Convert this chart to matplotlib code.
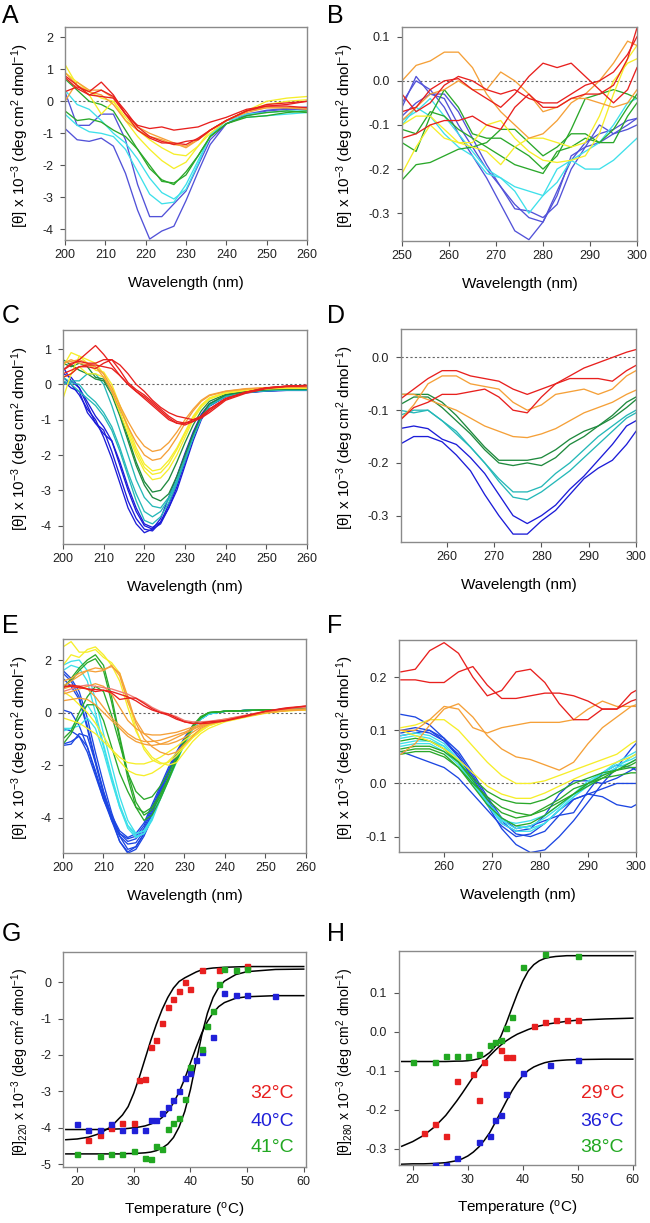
import matplotlib
matplotlib.use("Agg")
import matplotlib.pyplot as plt

plt.rcParams['font.family'] = ['Liberation Sans', 'DejaVu Sans']
plt.rcParams['mathtext.fontset'] = 'custom'
plt.rcParams['mathtext.rm'] = 'Liberation Sans'
plt.rcParams['mathtext.it'] = 'Liberation Sans:italic'
plt.rcParams['axes.unicode_minus'] = False

# ---------------- panel A (far UV, 3 nm steps) ----------------
a_wl = [200, 203, 206, 209, 212, 215, 218, 221, 224, 227, 230, 233, 236, 240, 245, 250, 255, 260]
a_blue = [
    [-0.85, -1.2, -1.25, -1.15, -1.4, -2.25, -3.4, -4.3, -4.05, -3.9, -3.1, -2.2, -1.35, -0.7, -0.4, -0.28, -0.22, -0.18],
    [0.3, -0.75, -0.75, -0.4, -0.4, -1.2, -2.6, -3.6, -3.6, -3.2, -2.8, -2.0, -1.2, -0.7, -0.45, -0.3, -0.25, -0.25],
]
a_cyan = [
    [-0.4, -0.75, -0.95, -1.0, -1.1, -1.5, -2.2, -2.9, -3.2, -3.15, -2.6, -1.85, -1.1, -0.6, -0.5, -0.45, -0.4, -0.35],
    [0.35, -0.1, -0.25, -0.6, -1.0, -1.3, -1.8, -2.4, -2.85, -3.05, -2.75, -1.95, -1.05, -0.6, -0.4, -0.35, -0.3, -0.3],
]
a_green = [
    [-0.3, -0.6, -0.55, -0.65, -0.9, -1.1, -1.5, -2.0, -2.5, -2.55, -2.3, -1.7, -1.1, -0.7, -0.5, -0.45, -0.35, -0.3],
    [0.7, 0.35, 0.0, -0.1, -0.3, -0.9, -1.5, -2.1, -2.45, -2.6, -2.2, -1.7, -1.1, -0.7, -0.45, -0.35, -0.3, -0.35],
]
a_yellow = [
    [1.15, 0.5, 0.2, -0.4, 0.0, -0.6, -1.1, -1.5, -1.85, -2.1, -1.9, -1.4, -1.0, -0.6, -0.3, 0.0, 0.1, 0.15],
    [0.9, 0.6, 0.3, 0.1, 0.0, -0.5, -0.9, -1.2, -1.45, -1.65, -1.7, -1.4, -0.9, -0.6, -0.3, -0.1, 0.0, 0.05],
]
a_orange = [
    [0.9, 0.5, 0.3, 0.2, -0.1, -0.6, -0.9, -1.1, -1.2, -1.35, -1.4, -1.2, -0.9, -0.6, -0.3, -0.2, -0.2, -0.25],
    [0.0, 0.6, 0.35, 0.35, 0.1, -0.4, -0.8, -1.0, -1.15, -1.3, -1.45, -1.2, -0.9, -0.6, -0.35, -0.2, -0.2, -0.2],
]
a_red = [
    [0.3, 0.45, 0.3, 0.6, 0.2, -0.4, -0.75, -0.85, -0.8, -0.9, -0.85, -0.8, -0.65, -0.5, -0.25, -0.15, -0.1, 0.0],
    [0.8, 0.5, 0.2, 0.35, 0.15, -0.3, -0.8, -1.1, -1.25, -1.35, -1.25, -1.2, -0.9, -0.6, -0.3, -0.1, -0.05, 0.0],
    [0.75, 0.4, 0.2, 0.15, 0.1, -0.4, -0.9, -1.15, -1.3, -1.3, -1.35, -1.15, -0.9, -0.6, -0.3, -0.15, -0.15, -0.2],
]

# ---------------- panel B (near UV) ----------------
b_wl = [250, 253, 256, 259, 262, 265, 268, 271, 274, 277, 280, 283, 286, 289, 292, 295, 298, 300]
b_blue = [
    [-0.05, 0.0, -0.02, -0.06, -0.12, -0.17, -0.22, -0.28, -0.34, -0.36, -0.32, -0.25, -0.18, -0.14, -0.12, -0.11, -0.09, -0.085],
    [-0.06, 0.01, -0.03, -0.03, -0.07, -0.13, -0.19, -0.24, -0.29, -0.295, -0.31, -0.28, -0.2, -0.15, -0.1, -0.12, -0.1, -0.085],
    [-0.08, -0.05, -0.03, -0.04, -0.1, -0.15, -0.2, -0.24, -0.28, -0.31, -0.32, -0.26, -0.17, -0.15, -0.14, -0.12, -0.11, -0.1],
]
b_cyan = [
    [-0.09, -0.07, -0.04, -0.08, -0.12, -0.16, -0.2, -0.22, -0.25, -0.3, -0.26, -0.2, -0.18, -0.2, -0.2, -0.18, -0.15, -0.13],
    [-0.1, -0.06, -0.08, -0.12, -0.15, -0.17, -0.21, -0.22, -0.24, -0.25, -0.26, -0.23, -0.18, -0.16, -0.14, -0.1, -0.05, -0.04],
]
b_green = [
    [-0.225, -0.19, -0.185, -0.17, -0.155, -0.15, -0.14, -0.11, -0.11, -0.14, -0.17, -0.15, -0.12, -0.12, -0.14, -0.14, -0.08, -0.05],
    [-0.14, -0.16, -0.08, -0.02, -0.06, -0.12, -0.13, -0.13, -0.15, -0.17, -0.2, -0.17, -0.11, -0.04, -0.03, -0.02, -0.03, -0.04],
    [-0.11, -0.12, -0.07, -0.08, -0.11, -0.13, -0.15, -0.17, -0.19, -0.2, -0.21, -0.16, -0.15, -0.13, -0.14, -0.11, -0.06, -0.03],
]
b_yellow = [
    [-0.21, -0.15, -0.1, -0.13, -0.14, -0.14, -0.1, -0.09, -0.13, -0.16, -0.18, -0.185, -0.18, -0.17, -0.12, -0.03, 0.05, 0.08],
    [-0.1, -0.08, -0.08, -0.11, -0.14, -0.15, -0.16, -0.19, -0.15, -0.13, -0.13, -0.14, -0.15, -0.14, -0.08, 0.0, 0.04, 0.05],
]
b_orange = [
    [0.0, 0.035, 0.045, 0.065, 0.065, 0.03, -0.03, -0.07, -0.1, -0.13, -0.12, -0.09, -0.05, -0.03, 0.0, 0.04, 0.09, 0.08],
    [-0.09, -0.06, -0.03, -0.02, 0.0, -0.02, -0.02, 0.02, 0.0, -0.03, -0.07, -0.06, -0.04, -0.04, -0.05, -0.06, -0.05, -0.02],
]
b_red = [
    [-0.03, -0.07, -0.05, -0.01, 0.01, 0.0, -0.02, -0.03, -0.02, -0.04, -0.05, -0.05, -0.03, -0.01, 0.0, 0.02, 0.06, 0.1],
    [-0.07, -0.06, -0.02, 0.0, 0.005, -0.02, -0.04, -0.06, -0.03, 0.01, 0.04, 0.03, 0.04, 0.01, -0.02, -0.05, -0.02, 0.03],
    [-0.13, -0.12, -0.1, -0.09, -0.09, -0.08, -0.1, -0.11, -0.06, -0.03, -0.06, -0.06, -0.04, -0.03, -0.03, -0.01, 0.05, 0.12],
]

# ---------------- panel C ----------------
c_wl = [200, 202, 204, 206, 208, 210, 212, 214, 216, 218, 220, 222, 224, 226, 228, 230, 232, 234, 236, 240, 245, 250, 255, 260]
c_blue = [
    [0.2, 0.0, -0.3, -0.7, -1.0, -1.5, -2.1, -2.8, -3.5, -3.95, -4.2, -4.1, -3.8, -3.2, -2.6, -1.95, -1.35, -0.85, -0.55, -0.32, -0.22, -0.18, -0.17, -0.17],
    [0.1, -0.1, -0.2, -0.8, -1.1, -1.3, -1.9, -2.6, -3.3, -3.8, -4.1, -4.15, -3.9, -3.4, -2.8, -2.1, -1.45, -0.9, -0.6, -0.33, -0.22, -0.18, -0.16, -0.16],
    [0.5, 0.1, -0.1, -0.5, -0.9, -1.2, -1.6, -2.3, -3.0, -3.6, -4.0, -4.1, -3.95, -3.5, -2.9, -2.2, -1.5, -0.95, -0.6, -0.34, -0.23, -0.18, -0.16, -0.16],
    [0.3, 0.2, -0.1, -0.6, -1.1, -1.4, -1.6, -2.2, -2.9, -3.5, -3.95, -4.05, -3.9, -3.5, -3.0, -2.3, -1.6, -1.0, -0.62, -0.35, -0.24, -0.19, -0.17, -0.17],
]
c_teal = [
    [0.1, 0.0, -0.2, -0.4, -0.6, -0.9, -1.3, -1.9, -2.6, -3.3, -3.85, -3.95, -3.75, -3.35, -2.8, -2.15, -1.5, -0.95, -0.6, -0.34, -0.23, -0.18, -0.16, -0.16],
    [0.2, 0.05, 0.0, -0.3, -0.5, -0.8, -1.2, -1.8, -2.5, -3.1, -3.6, -3.75, -3.6, -3.25, -2.75, -2.15, -1.5, -0.95, -0.6, -0.34, -0.22, -0.18, -0.16, -0.16],
    [0.0, 0.1, 0.1, 0.3, 0.3, 0.0, -0.6, -1.3, -2.0, -2.7, -3.2, -3.45, -3.5, -3.2, -2.7, -2.1, -1.5, -0.95, -0.6, -0.33, -0.22, -0.17, -0.15, -0.15],
]
c_green = [
    [0.7, 0.55, 0.4, 0.3, 0.15, 0.1, -0.3, -0.9, -1.6, -2.3, -2.85, -3.2, -3.3, -3.1, -2.6, -2.0, -1.4, -0.9, -0.55, -0.3, -0.2, -0.15, -0.13, -0.13],
    [0.6, 0.5, 0.6, 0.5, 0.2, 0.15, -0.2, -0.8, -1.5, -2.2, -2.75, -3.05, -3.0, -2.7, -2.2, -1.65, -1.15, -0.75, -0.48, -0.28, -0.2, -0.15, -0.13, -0.13],
]
c_yellow = [
    [-0.4, 0.3, 0.8, 0.7, 0.6, 0.3, -0.2, -0.8, -1.4, -2.0, -2.45, -2.7, -2.65, -2.4, -2.0, -1.5, -1.0, -0.65, -0.42, -0.25, -0.17, -0.13, -0.11, -0.11],
    [0.5, 0.9, 0.8, 0.6, 0.4, 0.35, 0.0, -0.6, -1.3, -1.9, -2.35, -2.55, -2.5, -2.25, -1.85, -1.4, -0.95, -0.6, -0.4, -0.24, -0.16, -0.12, -0.1, -0.1],
    [0.2, 0.3, 0.5, 0.3, 0.3, 0.2, -0.1, -0.6, -1.2, -1.8, -2.25, -2.45, -2.4, -2.15, -1.8, -1.35, -0.9, -0.58, -0.38, -0.23, -0.15, -0.11, -0.1, -0.1],
]
c_orange = [
    [0.6, 0.7, 0.6, 0.55, 0.5, 0.2, -0.2, -0.7, -1.2, -1.65, -2.0, -2.15, -2.1, -1.85, -1.5, -1.1, -0.75, -0.48, -0.32, -0.2, -0.13, -0.1, -0.08, -0.08],
    [0.6, 0.65, 0.7, 0.6, 0.5, 0.3, -0.1, -0.6, -1.05, -1.45, -1.75, -1.9, -1.85, -1.65, -1.35, -1.0, -0.7, -0.45, -0.3, -0.19, -0.12, -0.09, -0.07, -0.07],
]
c_red = [
    [0.4, 0.55, 0.7, 0.9, 1.1, 0.85, 0.55, 0.25, 0.0, -0.2, -0.35, -0.55, -0.75, -0.95, -1.1, -1.1, -1.0, -0.9, -0.7, -0.4, -0.22, -0.1, -0.05, -0.03],
    [0.4, 0.6, 0.65, 0.6, 0.6, 0.7, 0.7, 0.4, 0.05, -0.15, -0.3, -0.5, -0.7, -0.9, -1.05, -1.1, -1.05, -0.95, -0.75, -0.42, -0.22, -0.1, -0.05, -0.03],
    [0.2, 0.3, 0.5, 0.55, 0.55, 0.5, 0.45, 0.25, 0.0, -0.2, -0.4, -0.6, -0.8, -1.0, -1.1, -1.15, -1.05, -0.9, -0.7, -0.4, -0.22, -0.1, -0.05, -0.03],
    [0.3, 0.4, 0.5, 0.5, 0.45, 0.6, 0.7, 0.55, 0.3, 0.0, -0.2, -0.45, -0.65, -0.8, -0.9, -0.95, -1.0, -0.95, -0.8, -0.45, -0.25, -0.12, -0.06, -0.04],
]

# ---------------- panel D ----------------
d_wl = [250, 253, 256, 259, 262, 265, 268, 271, 274, 277, 280, 283, 286, 289, 292, 295, 298, 300]
d_blue = [
    [-0.135, -0.13, -0.135, -0.155, -0.165, -0.19, -0.22, -0.26, -0.3, -0.315, -0.3, -0.28, -0.25, -0.225, -0.195, -0.165, -0.13, -0.12],
    [-0.165, -0.15, -0.15, -0.16, -0.185, -0.215, -0.26, -0.3, -0.335, -0.335, -0.31, -0.29, -0.26, -0.23, -0.21, -0.195, -0.165, -0.14],
]
d_teal = [
    [-0.11, -0.1, -0.1, -0.12, -0.14, -0.17, -0.2, -0.23, -0.255, -0.255, -0.245, -0.22, -0.2, -0.175, -0.15, -0.13, -0.11, -0.1],
    [-0.1, -0.105, -0.1, -0.12, -0.145, -0.17, -0.2, -0.235, -0.265, -0.27, -0.255, -0.235, -0.215, -0.19, -0.165, -0.14, -0.115, -0.105],
]
d_green = [
    [-0.07, -0.07, -0.07, -0.085, -0.11, -0.14, -0.17, -0.195, -0.195, -0.195, -0.19, -0.175, -0.155, -0.14, -0.13, -0.11, -0.085, -0.075],
    [-0.09, -0.075, -0.075, -0.095, -0.12, -0.145, -0.175, -0.2, -0.205, -0.2, -0.205, -0.19, -0.165, -0.15, -0.13, -0.115, -0.095, -0.08],
]
d_orange = [
    [-0.12, -0.09, -0.05, -0.035, -0.035, -0.05, -0.055, -0.06, -0.085, -0.1, -0.09, -0.07, -0.065, -0.06, -0.07, -0.06, -0.035, -0.025],
    [-0.07, -0.07, -0.08, -0.09, -0.1, -0.115, -0.13, -0.14, -0.15, -0.152, -0.145, -0.135, -0.12, -0.105, -0.095, -0.085, -0.07, -0.062],
]
d_red = [
    [-0.08, -0.06, -0.04, -0.025, -0.025, -0.035, -0.04, -0.045, -0.06, -0.07, -0.06, -0.05, -0.035, -0.02, -0.01, 0.0, 0.01, 0.015],
    [-0.12, -0.095, -0.085, -0.07, -0.07, -0.065, -0.06, -0.075, -0.1, -0.105, -0.075, -0.05, -0.04, -0.04, -0.04, -0.045, -0.025, -0.015],
]

# ---------------- panel E ----------------
e_wl = [200, 202, 204, 206, 208, 210, 212, 214, 216, 218, 220, 222, 224, 226, 228, 230, 232, 234, 236, 240, 245, 250, 255, 260]
e_blue = [
    [1.6, 1.3, 0.8, -0.2, -1.5, -2.7, -3.8, -4.7, -5.2, -5.1, -4.6, -3.9, -3.1, -2.4, -1.7, -1.1, -0.6, -0.25, -0.05, 0.05, 0.08, 0.1, 0.12, 0.15],
    [1.5, 1.2, 0.6, -0.5, -1.8, -3.0, -4.0, -4.9, -5.35, -5.2, -4.7, -4.0, -3.2, -2.5, -1.8, -1.15, -0.6, -0.25, -0.05, 0.05, 0.08, 0.1, 0.12, 0.15],
    [1.3, 1.0, 0.5, -0.6, -1.9, -3.1, -4.1, -4.9, -5.3, -5.1, -4.6, -3.9, -3.1, -2.4, -1.7, -1.1, -0.6, -0.25, -0.05, 0.05, 0.08, 0.1, 0.12, 0.15],
    [0.1, 0.0, -0.5, -1.3, -2.3, -3.3, -4.1, -4.7, -5.0, -4.95, -4.5, -3.8, -3.0, -2.3, -1.6, -1.05, -0.55, -0.22, -0.04, 0.05, 0.08, 0.1, 0.12, 0.15],
    [-0.6, -0.7, -0.9, -1.5, -2.4, -3.3, -4.0, -4.6, -4.9, -4.8, -4.4, -3.7, -2.95, -2.25, -1.6, -1.0, -0.55, -0.22, -0.04, 0.05, 0.08, 0.1, 0.12, 0.15],
    [-1.2, -1.1, -0.9, -1.3, -2.2, -3.2, -4.0, -4.6, -4.8, -4.7, -4.3, -3.6, -2.9, -2.2, -1.55, -1.0, -0.55, -0.22, -0.04, 0.05, 0.08, 0.1, 0.12, 0.15],
    [-1.25, -1.2, -0.8, -0.9, -1.9, -3.0, -3.9, -4.5, -4.75, -4.6, -4.2, -3.5, -2.8, -2.1, -1.5, -0.95, -0.5, -0.2, -0.03, 0.05, 0.08, 0.1, 0.12, 0.15],
]
e_cyan = [
    [1.8, 1.95, 2.0, 1.6, 0.5, -0.8, -2.0, -3.2, -4.1, -4.6, -4.5, -4.0, -3.2, -2.5, -1.8, -1.15, -0.6, -0.25, -0.05, 0.05, 0.08, 0.1, 0.12, 0.15],
    [-0.6, -0.6, -0.2, 0.3, -0.2, -1.3, -2.5, -3.6, -4.4, -4.75, -4.6, -4.0, -3.3, -2.55, -1.85, -1.2, -0.65, -0.25, -0.05, 0.05, 0.08, 0.1, 0.12, 0.15],
    [1.6, 1.8, 1.7, 1.2, 0.0, -1.2, -2.4, -3.5, -4.3, -4.7, -4.6, -4.1, -3.3, -2.6, -1.9, -1.2, -0.65, -0.25, -0.05, 0.05, 0.08, 0.1, 0.12, 0.15],
    [-0.7, -0.6, -0.5, -0.2, -0.6, -1.5, -2.6, -3.6, -4.3, -4.6, -4.5, -4.0, -3.2, -2.5, -1.8, -1.15, -0.6, -0.25, -0.05, 0.05, 0.08, 0.1, 0.12, 0.15],
]
e_green = [
    [0.9, 1.3, 1.7, 2.0, 2.2, 1.8, 0.6, -0.9, -2.3, -3.4, -3.9, -3.7, -3.2, -2.5, -1.8, -1.1, -0.55, -0.2, 0.0, 0.05, 0.08, 0.1, 0.12, 0.15],
    [1.0, 1.2, 1.6, 1.9, 2.05, 1.6, 0.4, -1.0, -2.5, -3.6, -4.1, -3.9, -3.3, -2.6, -1.85, -1.15, -0.55, -0.2, 0.0, 0.05, 0.08, 0.1, 0.12, 0.15],
    [-1.2, -0.8, -0.2, 0.3, 0.3, -0.3, -1.3, -2.3, -3.0, -3.6, -3.8, -3.6, -3.1, -2.5, -1.8, -1.1, -0.55, -0.2, 0.0, 0.05, 0.08, 0.1, 0.12, 0.15],
    [-1.0, -0.7, 0.0, 0.6, 1.0, 0.8, -0.1, -1.2, -2.3, -3.0, -3.3, -3.2, -2.8, -2.3, -1.7, -1.05, -0.5, -0.15, 0.0, 0.05, 0.08, 0.1, 0.12, 0.15],
]
e_yellow = [
    [2.5, 2.7, 2.3, 2.3, 2.4, 2.1, 1.9, 1.5, 0.5, -0.6, -1.4, -1.8, -1.95, -1.9, -1.65, -1.3, -0.95, -0.7, -0.5, -0.3, -0.15, 0.0, 0.08, 0.12],
    [1.8, 2.2, 2.1, 2.4, 2.5, 2.2, 1.8, 1.2, 0.2, -0.7, -1.3, -1.7, -1.9, -2.0, -1.9, -1.5, -1.1, -0.8, -0.6, -0.35, -0.18, -0.02, 0.07, 0.1],
    [0.8, 0.6, 0.3, 0.0, -0.4, -0.9, -1.4, -1.85, -2.2, -2.35, -2.4, -2.3, -2.1, -1.85, -1.55, -1.25, -0.95, -0.7, -0.5, -0.3, -0.15, -0.02, 0.07, 0.1],
    [-0.2, -0.3, -0.4, -0.6, -0.8, -1.1, -1.4, -1.7, -1.9, -1.95, -1.95, -1.85, -1.7, -1.5, -1.3, -1.05, -0.85, -0.65, -0.48, -0.28, -0.13, 0.0, 0.07, 0.1],
]
e_orange = [
    [1.2, 1.3, 1.5, 1.6, 1.7, 1.65, 1.75, 1.5, 0.6, -0.4, -1.0, -1.3, -1.5, -1.6, -1.5, -1.2, -0.9, -0.6, -0.45, -0.3, -0.15, 0.0, 0.08, 0.12],
    [1.0, 1.2, 1.4, 1.6, 1.55, 1.6, 1.8, 1.4, 0.4, -0.3, -0.8, -1.05, -1.2, -1.2, -1.1, -0.95, -0.75, -0.55, -0.42, -0.28, -0.15, 0.0, 0.08, 0.12],
    [0.7, 0.8, 0.9, 1.0, 1.1, 1.0, 0.7, 0.2, -0.3, -0.6, -0.8, -0.85, -0.85, -0.8, -0.75, -0.65, -0.55, -0.45, -0.35, -0.25, -0.12, 0.02, 0.1, 0.13],
    [0.45, 0.5, 0.55, 0.5, 0.3, 0.0, -0.3, -0.6, -0.9, -1.1, -1.2, -1.25, -1.2, -1.1, -0.95, -0.8, -0.65, -0.5, -0.4, -0.27, -0.13, 0.02, 0.1, 0.13],
    [0.9, 1.0, 1.0, 0.9, 0.6, 0.2, -0.2, -0.5, -0.8, -1.0, -1.1, -1.1, -1.05, -0.95, -0.85, -0.75, -0.6, -0.5, -0.4, -0.3, -0.15, 0.0, 0.08, 0.12],
]
e_pink = [
    [0.8, 0.9, 1.0, 1.05, 1.0, 0.95, 0.9, 0.8, 0.7, 0.55, 0.4, 0.2, 0.05, -0.05, -0.15, -0.3, -0.35, -0.35, -0.33, -0.25, -0.1, 0.05, 0.15, 0.2],
]
e_red = [
    [1.0, 1.0, 0.95, 0.9, 0.88, 0.85, 0.8, 0.7, 0.6, 0.45, 0.25, 0.1, 0.0, -0.1, -0.25, -0.35, -0.4, -0.42, -0.4, -0.32, -0.15, 0.05, 0.15, 0.25],
    [0.95, 1.05, 1.0, 0.9, 0.8, 0.85, 0.75, 0.5, 0.55, 0.55, 0.35, 0.15, 0.0, -0.05, -0.2, -0.35, -0.42, -0.4, -0.35, -0.3, -0.12, 0.05, 0.18, 0.25],
]

# ---------------- panel F ----------------
f_wl = [251, 254, 257, 260, 263, 266, 269, 272, 275, 278, 281, 284, 287, 290, 293, 296, 299, 300]
f_blue = [
    [0.13, 0.125, 0.11, 0.085, 0.05, 0.01, -0.04, -0.085, -0.115, -0.13, -0.125, -0.1, -0.07, -0.035, 0.0, 0.03, 0.065, 0.075],
    [0.095, 0.1, 0.095, 0.08, 0.055, 0.015, -0.03, -0.07, -0.095, -0.1, -0.09, -0.06, -0.03, -0.02, -0.025, -0.04, -0.045, -0.04],
    [0.06, 0.05, 0.04, 0.03, 0.01, -0.02, -0.05, -0.08, -0.1, -0.095, -0.075, -0.05, -0.03, -0.02, -0.01, 0.0, 0.0, 0.0],
    [0.09, 0.095, 0.1, 0.085, 0.06, 0.02, -0.025, -0.065, -0.085, -0.08, -0.07, -0.06, -0.055, -0.015, 0.02, 0.035, 0.03, 0.025],
    [0.1, 0.105, 0.1, 0.08, 0.05, 0.01, -0.035, -0.075, -0.09, -0.085, -0.06, -0.02, 0.005, 0.005, 0.0, 0.01, 0.025, 0.03],
]
f_cyan = [
    [0.085, 0.09, 0.085, 0.07, 0.045, 0.005, -0.035, -0.065, -0.08, -0.085, -0.075, -0.05, -0.025, 0.0, 0.02, 0.04, 0.055, 0.06],
    [0.075, 0.08, 0.08, 0.07, 0.04, 0.0, -0.04, -0.07, -0.085, -0.08, -0.065, -0.045, -0.02, 0.0, 0.015, 0.03, 0.05, 0.055],
    [0.07, 0.075, 0.075, 0.06, 0.035, 0.0, -0.04, -0.07, -0.075, -0.07, -0.06, -0.04, -0.02, 0.005, 0.02, 0.035, 0.045, 0.05],
    [0.09, 0.095, 0.09, 0.075, 0.045, 0.005, -0.04, -0.075, -0.09, -0.09, -0.075, -0.05, -0.025, -0.005, 0.015, 0.03, 0.04, 0.045],
]
f_green = [
    [0.065, 0.07, 0.07, 0.06, 0.04, 0.01, -0.015, -0.03, -0.037, -0.038, -0.03, -0.015, 0.0, 0.01, 0.02, 0.025, 0.03, 0.03],
    [0.055, 0.06, 0.06, 0.05, 0.03, 0.0, -0.025, -0.045, -0.055, -0.06, -0.05, -0.035, -0.02, -0.005, 0.01, 0.025, 0.04, 0.045],
    [0.08, 0.085, 0.08, 0.065, 0.04, 0.005, -0.03, -0.055, -0.065, -0.06, -0.045, -0.03, -0.01, 0.0, 0.01, 0.015, 0.02, 0.02],
    [0.06, 0.065, 0.065, 0.055, 0.03, -0.005, -0.04, -0.065, -0.08, -0.075, -0.06, -0.04, -0.02, 0.0, 0.015, 0.025, 0.035, 0.04],
]
f_yellow = [
    [0.105, 0.11, 0.12, 0.12, 0.1, 0.07, 0.04, 0.015, 0.0, 0.0, 0.005, 0.015, 0.025, 0.035, 0.045, 0.055, 0.075, 0.08],
    [0.1, 0.09, 0.08, 0.065, 0.045, 0.02, -0.005, -0.02, -0.028, -0.028, -0.018, -0.005, 0.008, 0.02, 0.03, 0.04, 0.05, 0.055],
]
f_orange = [
    [0.055, 0.075, 0.11, 0.14, 0.15, 0.125, 0.09, 0.065, 0.05, 0.045, 0.035, 0.025, 0.04, 0.075, 0.105, 0.125, 0.145, 0.148],
    [0.1, 0.1, 0.12, 0.145, 0.14, 0.105, 0.095, 0.105, 0.11, 0.115, 0.115, 0.115, 0.12, 0.14, 0.155, 0.145, 0.145, 0.145],
]
f_red = [
    [0.21, 0.215, 0.25, 0.265, 0.245, 0.2, 0.165, 0.175, 0.21, 0.215, 0.19, 0.15, 0.12, 0.12, 0.14, 0.14, 0.155, 0.158],
    [0.195, 0.195, 0.19, 0.19, 0.21, 0.22, 0.185, 0.16, 0.16, 0.165, 0.17, 0.17, 0.165, 0.155, 0.14, 0.14, 0.17, 0.175],
]

# ---------------- panel G (melting at 220 nm) ----------------
g_red_t = [22, 24, 26, 28, 30, 31, 32, 33, 34, 35, 36, 37, 38, 39, 40, 42, 45, 50]
g_red_v = [-4.35, -4.2, -4.0, -3.87, -3.87, -2.68, -2.67, -1.78, -1.6, -1.12, -0.68, -0.45, -0.23, 0.0, -0.18, 0.34, 0.33, 0.45]
g_blue_t = [20, 22, 24, 26, 28, 30, 32, 33, 34, 35, 36, 37, 38, 39, 40, 41, 42, 44, 46, 48, 50, 55]
g_blue_v = [-3.9, -4.05, -4.05, -3.91, -4.05, -4.05, -4.05, -3.79, -3.78, -3.59, -3.42, -3.25, -3.0, -2.64, -2.49, -2.15, -1.91, -1.5, -0.3, -0.36, -0.35, -0.37]
g_green_t = [20, 24, 26, 28, 30, 32, 33, 34, 35, 36, 37, 38, 39, 40, 42, 43, 44, 45, 46, 48, 50]
g_green_v = [-4.72, -4.78, -4.71, -4.72, -4.65, -4.84, -4.86, -4.5, -4.58, -4.03, -3.87, -3.74, -3.2, -2.33, -1.84, -1.21, -0.8, -0.05, 0.35, 0.33, 0.35]

fit_t = [18, 20, 22, 24, 26, 28, 29, 30, 31, 32, 33, 34, 35, 36, 37, 38, 39, 40, 41, 42, 43, 44, 45, 46, 48, 50, 55, 60]
g_red_fit = [-4.33, -4.31, -4.26, -4.16, -3.97, -3.65, -3.42, -3.05, -2.6, -2.1, -1.6, -1.15, -0.75, -0.42, -0.16, 0.02, 0.12, 0.2, 0.28, 0.34, 0.37, 0.39, 0.4, 0.41, 0.42, 0.43, 0.43, 0.43]
g_blue_fit = [-4.05, -4.05, -4.05, -4.05, -4.04, -4.03, -4.02, -4.0, -3.98, -3.95, -3.9, -3.83, -3.72, -3.55, -3.32, -3.02, -2.65, -2.22, -1.79, -1.4, -1.08, -0.84, -0.67, -0.56, -0.44, -0.4, -0.37, -0.37]
g_green_fit = [-4.72, -4.72, -4.72, -4.72, -4.72, -4.72, -4.71, -4.71, -4.7, -4.69, -4.67, -4.63, -4.56, -4.45, -4.27, -3.98, -3.55, -2.95, -2.2, -1.45, -0.85, -0.42, -0.14, 0.03, 0.21, 0.29, 0.35, 0.36]
g_tm_labels = ['32°C', '40°C', '41°C']

# ---------------- panel H (melting at 280 nm) ----------------
h_red_t = [22, 24, 26, 28, 31, 32, 33, 36, 37, 38, 42, 44, 46, 48, 50]
h_red_v = [-0.26, -0.235, -0.268, -0.125, -0.108, -0.174, -0.078, -0.047, -0.064, -0.064, 0.014, 0.026, 0.03, 0.031, 0.03]
h_blue_t = [24, 26, 28, 32, 34, 35, 36, 37, 40, 45, 50]
h_blue_v = [-0.34, -0.34, -0.324, -0.282, -0.266, -0.226, -0.212, -0.16, -0.106, -0.084, -0.072]
h_green_t = [20, 24, 26, 28, 30, 32, 34, 35, 36, 37, 38, 40, 44, 50]
h_green_v = [-0.076, -0.078, -0.062, -0.063, -0.061, -0.058, -0.034, -0.027, -0.02, 0.011, 0.037, 0.165, 0.199, 0.195]

h_red_fit = [-0.293, -0.281, -0.265, -0.243, -0.214, -0.177, -0.157, -0.136, -0.115, -0.095, -0.077, -0.061, -0.047, -0.034, -0.023, -0.014, -0.006, 0.0, 0.006, 0.011, 0.015, 0.018, 0.021, 0.023, 0.027, 0.03, 0.033, 0.035]
h_blue_fit = [-0.339, -0.338, -0.338, -0.337, -0.335, -0.33, -0.325, -0.318, -0.308, -0.295, -0.278, -0.258, -0.232, -0.205, -0.178, -0.152, -0.13, -0.112, -0.099, -0.09, -0.084, -0.079, -0.076, -0.074, -0.072, -0.071, -0.07, -0.07]
h_green_fit = [-0.076, -0.076, -0.076, -0.076, -0.076, -0.075, -0.075, -0.074, -0.072, -0.069, -0.063, -0.053, -0.037, -0.012, 0.022, 0.06, 0.097, 0.13, 0.156, 0.172, 0.182, 0.188, 0.191, 0.193, 0.195, 0.195, 0.195, 0.195]
h_tm_labels = ['29°C', '36°C', '38°C']

# colours
RED = '#e8201e'
PINK = '#f07a72'
ORANGE = '#f5a038'
YELLOW = '#f6ee2a'
GREEN = '#2aa82a'
DKGREEN = '#1f8a3e'
CYAN = '#3ee0ea'
TEAL = '#25b8b8'
BLUE_AB = '#5252d8'
BLUE = '#1c1cd8'
BLUE_EF = '#1c46e2'
TXT_RED = '#e82020'
TXT_BLUE = '#2020d8'
TXT_GREEN = '#22a822'

W, H = 650, 1223
fig = plt.figure(figsize=(W / 100, H / 100), dpi=100)

SPEC_YLABEL = '[θ] x 10$^{-3}$ (deg cm$^{2}$ dmol$^{-1}$)'
MELT_YLABEL = '[θ]$_{%s}$ x 10$^{-3}$ (deg cm$^{2}$ dmol$^{-1}$)'


def make_axes(x0, y0, x1, y1):
    ax = fig.add_axes([x0 / W, 1 - y1 / H, (x1 - x0) / W, (y1 - y0) / H])
    for s in ax.spines.values():
        s.set_color('#8a8a8a')
        s.set_linewidth(1.0)
    ax.tick_params(direction='out', length=3.5, width=0.8, color='#555555',
                   labelsize=9, labelcolor='#222222', pad=3)
    ax.tick_params(axis='y', pad=5)
    return ax


def decorate(ax, box, letter, letter_top, xlabel, ylabel, ylab_size, ylab_cy):
    x0, y0, x1, y1 = box
    left_col = x0 < 200
    lx = 2 if left_col else 327
    fig.text(lx / W, 1 - (letter_top - 4) / H, letter, fontsize=18,
             ha='left', va='top')
    yl_x = 20 if left_col else 345
    fig.text(yl_x / W, 1 - ylab_cy / H, ylabel, rotation=90, fontsize=ylab_size,
             ha='center', va='center')
    fig.text((x0 + x1) / 2 / W, 1 - (y1 + 43) / H, xlabel, fontsize=11,
             ha='center', va='center')


def spectrum(box, letter, letter_top, wl, groups, xlim, ylim, xticks, yticks, yfmt):
    ax = make_axes(*box)
    ax.axhline(0, color='#666666', lw=0.8, ls=(0, (2, 2)), zorder=1)
    for curves, color in groups:
        for vals in curves:
            ax.plot(wl, vals, color=color, lw=0.95, zorder=2)
    ax.set_xlim(*xlim)
    ax.set_ylim(*ylim)
    ax.set_xticks(xticks)
    ax.set_yticks(yticks)
    ax.set_yticklabels([yfmt.format(v) for v in yticks])
    decorate(ax, box, letter, letter_top, 'Wavelength (nm)', SPEC_YLABEL,
             11, (box[1] + box[3]) / 2 + 2)
    return ax


def melt(box, letter, sub, pts, fits, labels, ylim, yticks, yfmt, lab_x):
    ax = make_axes(*box)
    for vals in fits:
        ax.plot(fit_t, vals, color='black', lw=1.1, zorder=2)
    for t, v, c in pts:
        ax.plot(t, v, ls='none', marker='s', ms=3.6, color=c, mec=c, zorder=3)
    ax.set_xlim(17.5, 60.4)
    ax.set_ylim(*ylim)
    ax.set_xticks([20, 30, 40, 50, 60])
    ax.set_yticks(yticks)
    ax.set_yticklabels([yfmt.format(v) for v in yticks])
    for lab, c, yy in zip(labels, [TXT_RED, TXT_BLUE, TXT_GREEN], [1093, 1121, 1147]):
        fig.text(lab_x / W, 1 - yy / H, lab, color=c, fontsize=14, ha='right', va='center')
    decorate(ax, box, letter, 926, 'Temperature ($^{\\mathrm{o}}$C)', MELT_YLABEL % sub,
             10.2, 1062)
    return ax


spectrum((65, 27, 307, 240), 'A', 8, a_wl,
         [(a_blue, BLUE_AB), (a_cyan, CYAN), (a_green, GREEN), (a_yellow, YELLOW),
          (a_orange, ORANGE), (a_red, RED)],
         (200, 260), (-4.33, 2.32), range(200, 261, 10), [-4, -3, -2, -1, 0, 1, 2], '{:d}')
spectrum((402, 27, 637, 241), 'B', 8, b_wl,
         [(b_blue, BLUE_AB), (b_cyan, CYAN), (b_green, GREEN), (b_yellow, YELLOW),
          (b_orange, ORANGE), (b_red, RED)],
         (250, 300), (-0.363, 0.122), range(250, 301, 10), [-0.3, -0.2, -0.1, 0.0, 0.1], '{:.1f}')
spectrum((63, 330, 307, 544), 'C', 308, c_wl,
         [(c_blue, BLUE), (c_teal, TEAL), (c_green, DKGREEN), (c_yellow, YELLOW),
          (c_orange, ORANGE), (c_red, RED)],
         (200, 260), (-4.52, 1.54), range(200, 261, 10), [-4, -3, -2, -1, 0, 1], '{:d}')
spectrum((401, 329, 636, 542), 'D', 308, d_wl,
         [(d_blue, BLUE), (d_teal, TEAL), (d_green, DKGREEN), (d_orange, ORANGE), (d_red, RED)],
         (250.3, 300), (-0.35, 0.054), range(260, 301, 10), [-0.3, -0.2, -0.1, 0.0], '{:.1f}')
spectrum((63, 639, 306, 853), 'E', 618, e_wl,
         [(e_blue, BLUE_EF), (e_cyan, CYAN), (e_green, GREEN), (e_yellow, YELLOW),
          (e_orange, ORANGE), (e_pink, PINK), (e_red, RED)],
         (200, 260), (-5.34, 2.8), range(200, 261, 10), [-4, -2, 0, 2], '{:d}')
spectrum((399, 640, 636, 852), 'F', 618, f_wl,
         [(f_blue, BLUE_EF), (f_cyan, CYAN), (f_green, GREEN), (f_yellow, YELLOW),
          (f_orange, ORANGE), (f_red, RED)],
         (250.6, 300), (-0.129, 0.27), range(260, 301, 10), [-0.1, 0.0, 0.1, 0.2], '{:.1f}')

melt((63, 952, 306, 1167), 'G', '220',
     [(g_red_t, g_red_v, TXT_RED), (g_blue_t, g_blue_v, TXT_BLUE), (g_green_t, g_green_v, TXT_GREEN)],
     [g_red_fit, g_blue_fit, g_green_fit], g_tm_labels,
     (-5.08, 0.83), [-5, -4, -3, -2, -1, 0], '{:d}', 294)
melt((399, 951, 635, 1165), 'H', '280',
     [(h_red_t, h_red_v, TXT_RED), (h_blue_t, h_blue_v, TXT_BLUE), (h_green_t, h_green_v, TXT_GREEN)],
     [h_red_fit, h_blue_fit, h_green_fit], h_tm_labels,
     (-0.341, 0.207), [-0.3, -0.2, -0.1, 0.0, 0.1], '{:.1f}', 624)

fig.savefig('out.png', dpi=100)
